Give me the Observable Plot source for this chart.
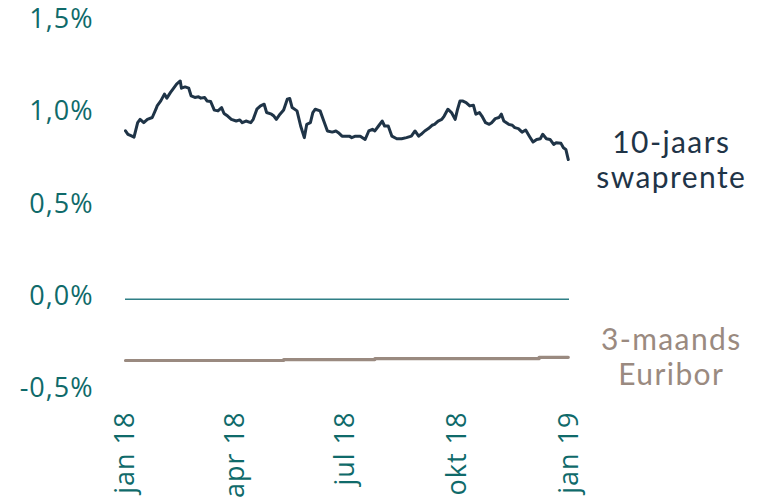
<!DOCTYPE html>
<html>
<head>
<meta charset="utf-8">
<script src="https://cdn.jsdelivr.net/npm/d3@7"></script>
<script src="https://cdn.jsdelivr.net/npm/@observablehq/plot@0.6"></script>
<style>
  html, body { margin: 0; padding: 0; background: #ffffff; }
  #chart { width: 759px; height: 497px; }
  .ax-y text { letter-spacing: 1px; }
  .ax-x text { letter-spacing: 1px; }
  .series-label text { letter-spacing: 1.4px; }
</style>
</head>
<body>
<div id="chart"></div>
<script>
// 10-jaars swaprente (%)
const swapDates = [
  "2018-01-01","2018-01-03","2018-01-05","2018-01-08","2018-01-11","2018-01-13","2018-01-16","2018-01-19",
  "2018-01-23","2018-01-26","2018-01-27","2018-01-30","2018-02-02","2018-02-04","2018-02-07","2018-02-09",
  "2018-02-12","2018-02-15","2018-02-16","2018-02-19","2018-02-22","2018-02-24","2018-02-27","2018-03-02",
  "2018-03-04","2018-03-07","2018-03-09","2018-03-12","2018-03-15","2018-03-18","2018-03-21","2018-03-23",
  "2018-03-26","2018-03-29","2018-04-02","2018-04-05","2018-04-07","2018-04-10","2018-04-14","2018-04-16",
  "2018-04-19","2018-04-22","2018-04-25","2018-04-27","2018-05-01","2018-05-03","2018-05-05","2018-05-08",
  "2018-05-11","2018-05-14","2018-05-16","2018-05-18","2018-05-22","2018-05-25","2018-05-28","2018-05-30",
  "2018-06-02","2018-06-04","2018-06-06","2018-06-10","2018-06-13","2018-06-16","2018-06-20","2018-06-23",
  "2018-06-25","2018-06-28","2018-07-01","2018-07-04","2018-07-06","2018-07-09","2018-07-13","2018-07-17",
  "2018-07-20","2018-07-23","2018-07-25","2018-07-28","2018-07-31","2018-08-02","2018-08-05","2018-08-08",
  "2018-08-12","2018-08-16","2018-08-20","2018-08-24","2018-08-27","2018-08-30","2018-09-01","2018-09-04",
  "2018-09-07","2018-09-10","2018-09-12","2018-09-15","2018-09-18","2018-09-20","2018-09-23","2018-09-26",
  "2018-09-29","2018-10-01","2018-10-03","2018-10-05","2018-10-08","2018-10-11","2018-10-14","2018-10-16",
  "2018-10-19","2018-10-21","2018-10-24","2018-10-27","2018-10-29","2018-11-01","2018-11-04","2018-11-06",
  "2018-11-08","2018-11-12","2018-11-15","2018-11-17","2018-11-20","2018-11-23","2018-11-26","2018-11-29",
  "2018-12-02","2018-12-05","2018-12-08","2018-12-10","2018-12-13","2018-12-16","2018-12-19","2018-12-21",
  "2018-12-25","2018-12-27","2018-12-29","2018-12-31"
];
const swapValues = [
  0.913,0.894,0.888,0.879,0.957,0.975,0.957,0.975,
  0.985,1.030,1.048,1.075,1.112,1.090,1.121,1.139,
  1.166,1.183,1.144,1.151,1.144,1.102,1.094,1.097,
  1.090,1.094,1.075,1.072,1.025,1.021,1.039,1.007,
  0.993,0.975,0.966,0.972,0.957,0.966,0.957,0.975,
  1.030,1.048,1.057,1.012,1.003,0.993,0.975,1.003,
  1.026,1.084,1.088,1.039,1.021,0.939,0.876,0.948,
  0.957,1.012,1.030,1.021,0.966,0.912,0.906,0.912,
  0.903,0.884,0.884,0.884,0.876,0.884,0.884,0.866,
  0.912,0.921,0.912,0.939,0.966,0.939,0.939,0.884,
  0.870,0.870,0.876,0.884,0.912,0.884,0.894,0.912,
  0.925,0.943,0.948,0.966,0.975,0.993,1.030,1.012,
  0.975,1.030,1.075,1.075,1.066,1.048,1.052,1.003,
  1.012,0.993,0.957,0.948,0.957,0.979,0.985,1.003,
  0.966,0.948,0.943,0.930,0.925,0.906,0.917,0.884,
  0.852,0.866,0.870,0.894,0.870,0.866,0.839,0.848,
  0.845,0.821,0.812,0.757
];

// 3-maands Euribor (%)
const euriborDates = ["2018-01-01","2018-05-11","2018-07-25","2018-12-07","2018-12-31"];
const euriborValues = [-0.332, -0.327, -0.322, -0.315, -0.315];

const yTicks = [-0.5, 0, 0.5, 1.0, 1.5];
const xTickDates = ["2018-01-01","2018-04-01","2018-07-01","2018-10-01","2019-01-01"];
const xTickLabels = ["jan 18","apr 18","jul 18","okt 18","jan 19"];

const seriesLabels = ["10-jaars\nswaprente", "3-maands\nEuribor"];

const parse = d3.utcParse("%Y-%m-%d");
const swap = swapDates.map((d, i) => ({date: parse(d), value: swapValues[i]}));
const euribor = euriborDates.map((d, i) => ({date: parse(d), value: euriborValues[i]}));
const xTicks = xTickDates.map(parse);

const teal = "#0f6a6a";
const navy = "#1f3447";
const taupe = "#9a8a80";
const axisFont = "'Open Sans', sans-serif";
const labelFont = "Lato, 'Noto Sans', sans-serif";

const chart = Plot.plot({
  width: 759,
  height: 497,
  marginLeft: 125,
  marginRight: 190,
  marginTop: 22,
  marginBottom: 106,
  style: {background: "#ffffff", fontFamily: axisFont, overflow: "visible"},
  x: {type: "utc", domain: [parse("2018-01-01"), parse("2019-01-01")], label: null},
  y: {domain: [-0.5, 1.5], label: null},
  marks: [
    Plot.axisY(yTicks, {
      label: null, tickSize: 0, tickPadding: 32, dy: -3, fill: teal, fontSize: 27, fontFamily: axisFont,
      className: "ax-y",
      tickFormat: d => d.toFixed(1).replace(".", ",") + "%"
    }),
    Plot.axisX(xTicks, {
      label: null, tickSize: 0, tickPadding: 20, tickRotate: -90, fill: teal, fontSize: 27, fontFamily: axisFont,
      className: "ax-x",
      tickFormat: d => xTickLabels[xTicks.findIndex(t => +t === +d)]
    }),
    Plot.ruleY([0], {stroke: "#2f7f86", strokeWidth: 1.3}),
    Plot.line(euribor, {x: "date", y: "value", curve: "step-after", stroke: taupe, strokeWidth: 3.2}),
    Plot.line(swap, {x: "date", y: "value", stroke: navy, strokeWidth: 3, strokeLinejoin: "round"}),
    Plot.text([swap[swap.length - 1]], {
      x: "date", y: "value", text: () => seriesLabels[0], dx: 103, dy: 0,
      textAnchor: "middle", lineAnchor: "middle", lineHeight: 1.17,
      fill: navy, fontSize: 30, fontFamily: labelFont, className: "series-label"
    }),
    Plot.text([euribor[euribor.length - 1]], {
      x: "date", y: "value", text: () => seriesLabels[1], dx: 103, dy: -1,
      textAnchor: "middle", lineAnchor: "middle", lineHeight: 1.17,
      fill: taupe, fontSize: 30, fontFamily: labelFont, className: "series-label"
    })
  ]
});
document.getElementById("chart").appendChild(chart);
</script>
</body>
</html>
